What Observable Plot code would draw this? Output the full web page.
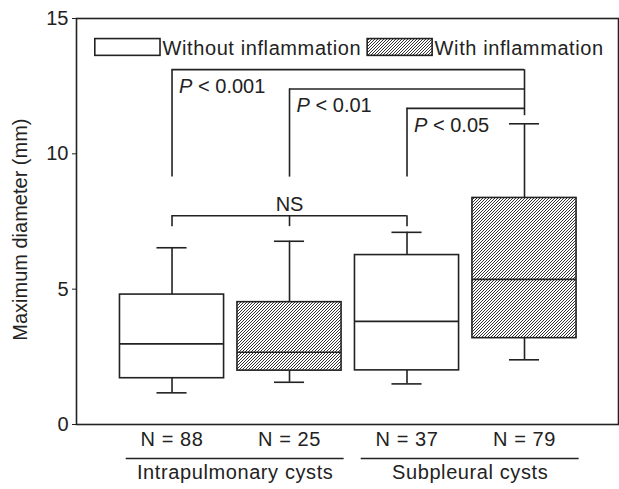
<!DOCTYPE html>
<html>
<head>
<meta charset="utf-8">
<script src="https://cdn.jsdelivr.net/npm/d3@7"></script>
<script src="https://cdn.jsdelivr.net/npm/@observablehq/plot@0.6"></script>
<style>
  html, body { margin: 0; padding: 0; background: #fff; }
  svg text { font-family: "Liberation Sans", Arial, Helvetica, sans-serif; }
</style>
</head>
<body>
<div id="chart"></div>
<script>
// ---- data ----
const groups = ["Intrapulmonary cysts", "Intrapulmonary cysts", "Subpleural cysts", "Subpleural cysts"];
const series = ["Without inflammation", "With inflammation", "Without inflammation", "With inflammation"];
const nLabels = ["N = 88", "N = 25", "N = 37", "N = 79"];
const whiskerLow  = [1.17, 1.56, 1.50, 2.39];
const q1          = [1.71, 1.99, 2.00, 3.19];
const median      = [2.98, 2.67, 3.81, 5.36];
const q3          = [4.80, 4.52, 6.26, 8.37];
const whiskerHigh = [6.53, 6.77, 7.10, 11.11];
const groupNames = ["Intrapulmonary cysts", "Subpleural cysts"];
const sigFrom = [1, 2, 3];          // compared box (1-based) against box 4
const sigTo = 4;
const sigLabels = ["< 0.001", "< 0.01", "< 0.05"];
const nsBoxes = [1, 2, 3];
const yTicks = [0, 5, 10, 15];
const yTitle = "Maximum diameter (mm)";

// ---- build tables ----
const boxes = nLabels.map((n, i) => ({
  pos: i + 1, group: groups[i], series: series[i], n,
  lo: whiskerLow[i], q1: q1[i], med: median[i], q3: q3[i], hi: whiskerHigh[i],
  hatched: series[i] === "With inflammation"
}));
const halfW = 0.443, capHalf = 0.128;
const ink = "#222";
const sw = 1.6;

const sig = sigFrom.map((f, i) => ({from: f, to: sigTo, label: sigLabels[i], level: 13.11 - i * 0.715}));
const bracketBottom = 9.14;
const rightBottom = 11.41;
const nsLevel = 7.71, nsFoot = 7.31;

const groupTable = groupNames.map(g => {
  const ps = boxes.filter(b => b.group === g).map(b => b.pos);
  return {name: g, x1: d3.min(ps) - 0.39, x2: d3.max(ps) + 0.465};
});

const legend = [
  {label: "Without inflammation", x1: 0.347, x2: 0.902, hatched: false},
  {label: "With inflammation", x1: 2.665, x2: 3.218, hatched: true}
];
const legY1 = 13.62, legY2 = 14.24;

const plot = Plot.plot({
  width: 619,
  height: 489,
  marginLeft: 76,
  marginRight: 1,
  marginTop: 18,
  marginBottom: 65,
  style: {fontSize: "20px", color: ink, background: "#fff", fontFamily: "Liberation Sans, Arial, sans-serif"},
  x: {domain: [0.187, 4.80], axis: null},
  y: {domain: [0, 15], ticks: yTicks, tickSize: 4, tickPadding: 4, label: null},
  marks: [
    // whiskers
    Plot.ruleX(boxes, {x: "pos", y1: "q3", y2: "hi", stroke: ink, strokeWidth: sw}),
    Plot.ruleX(boxes, {x: "pos", y1: "lo", y2: "q1", stroke: ink, strokeWidth: sw}),
    Plot.ruleY(boxes, {y: "hi", x1: d => d.pos - capHalf, x2: d => d.pos + capHalf, stroke: ink, strokeWidth: sw}),
    Plot.ruleY(boxes, {y: "lo", x1: d => d.pos - capHalf, x2: d => d.pos + capHalf, stroke: ink, strokeWidth: sw}),
    // boxes
    Plot.rect(boxes.filter(d => !d.hatched), {x1: d => d.pos - halfW, x2: d => d.pos + halfW, y1: "q1", y2: "q3", fill: "white", stroke: ink, strokeWidth: sw}),
    Plot.rect(boxes.filter(d => d.hatched), {x1: d => d.pos - halfW, x2: d => d.pos + halfW, y1: "q1", y2: "q3", fill: "url(#hatch)", stroke: ink, strokeWidth: sw}),
    Plot.ruleY(boxes, {y: "med", x1: d => d.pos - halfW, x2: d => d.pos + halfW, stroke: ink, strokeWidth: sw}),
    // significance brackets
    Plot.ruleX(sig, {x: "from", y1: bracketBottom, y2: "level", stroke: ink, strokeWidth: sw}),
    Plot.ruleY(sig, {y: "level", x1: "from", x2: "to", stroke: ink, strokeWidth: sw}),
    Plot.ruleX([sigTo], {x: d => d, y1: rightBottom, y2: d3.max(sig, d => d.level), stroke: ink, strokeWidth: sw}),
    Plot.text(sig, {x: "from", y: "level", text: () => "P", dx: 7, dy: 17, textAnchor: "start", fontStyle: "italic", fill: ink}),
    Plot.text(sig, {x: "from", y: "level", text: "label", dx: 26, dy: 17, textAnchor: "start", fill: ink}),
    // NS bracket
    Plot.ruleY([nsLevel], {y: d => d, x1: d3.min(nsBoxes), x2: d3.max(nsBoxes), stroke: ink, strokeWidth: sw}),
    Plot.ruleX(nsBoxes, {x: d => d, y1: nsFoot, y2: nsLevel, stroke: ink, strokeWidth: sw}),
    Plot.text(["NS"], {x: (nsBoxes[0] + nsBoxes[2]) / 2, y: nsLevel, text: d => d, dy: -11, fill: ink}),
    // legend
    Plot.rect(legend.filter(d => !d.hatched), {x1: "x1", x2: "x2", y1: legY1, y2: legY2, fill: "white", stroke: ink, strokeWidth: sw}),
    Plot.rect(legend.filter(d => d.hatched), {x1: "x1", x2: "x2", y1: legY1, y2: legY2, fill: "url(#hatch)", stroke: ink, strokeWidth: sw}),
    Plot.text(legend, {x: "x2", y: (legY1 + legY2) / 2, text: "label", dx: 2, dy: 1, textAnchor: "start", fill: ink}),
    // x labels below frame
    Plot.text(boxes, {x: "pos", text: "n", frameAnchor: "bottom", dy: 21, fill: ink}),
    Plot.ruleY(groupTable, {y: 0, x1: "x1", x2: "x2", dy: 34, stroke: ink, strokeWidth: sw}),
    Plot.text(groupTable, {x: d => (d.x1 + d.x2) / 2, text: "name", frameAnchor: "bottom", dy: 54, fill: ink}),
    // y label
    Plot.text([yTitle], {frameAnchor: "left", y: 7.2, text: d => d, rotate: -90, textAnchor: "middle", dx: -56, fill: ink}),
    Plot.frame({stroke: ink, strokeWidth: sw})
  ]
});

const svg = d3.select(plot);
const defs = svg.insert("defs", ":first-child");
const pat = defs.append("pattern").attr("id", "hatch").attr("patternUnits", "userSpaceOnUse").attr("width", 3).attr("height", 3);
pat.append("rect").attr("width", 3).attr("height", 3).attr("fill", "#fff");
pat.append("path").attr("d", "M-1,1L1,-1M0,3L3,0M2,4L4,2").attr("stroke", "#333").attr("stroke-width", 1);

// slightly wider tracking for the larger labels, as in the reference
const wide = new Set([...nLabels, ...groupNames, ...legend.map(d => d.label)]);
svg.selectAll("text").filter(function() { return wide.has(this.textContent); }).style("letter-spacing", "0.6px");

document.getElementById("chart").appendChild(plot);
</script>
</body>
</html>
